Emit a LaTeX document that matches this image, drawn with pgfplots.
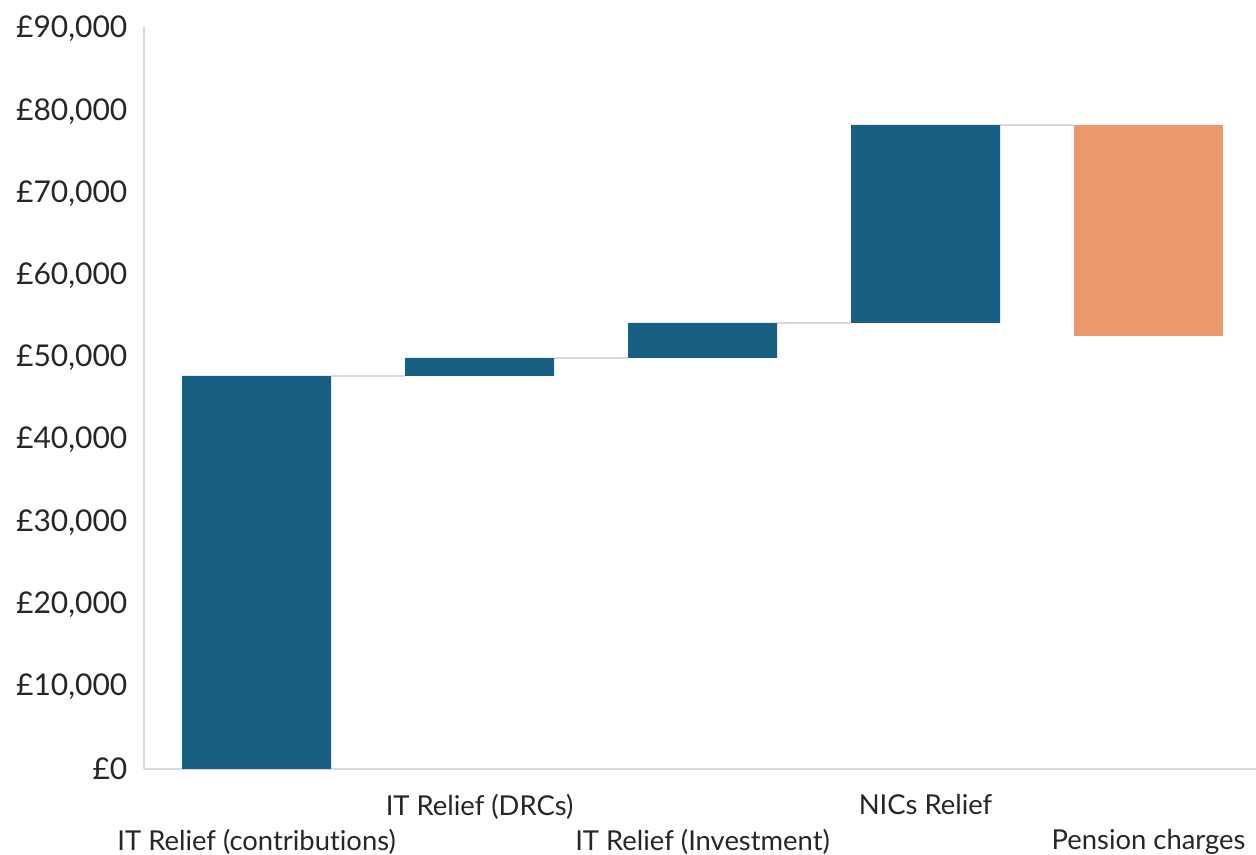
\documentclass[border=0pt]{standalone}
\usepackage{fontspec}
\setmainfont{Lato}[Ligatures={NoCommon}]
\usepackage{pgfplots}
\pgfplotsset{compat=1.18}
\definecolor{barblue}{HTML}{176082}
\definecolor{barorange}{HTML}{EB986B}
\definecolor{linegrey}{HTML}{D9D9D9}
\definecolor{txt}{HTML}{262626}
\begin{document}
\begin{tikzpicture}
\path[use as bounding box] (0,0) rectangle (628pt,427.5pt);
\begin{axis}[
  at={(72pt,43pt)}, anchor=south west,
  scale only axis, width=556pt, height=371pt,
  xmin=-0.505, xmax=4.482, ymin=0, ymax=90250,
  ybar stacked, bar width=0.668,
  axis lines*=left,
  axis line style={draw=linegrey, line width=1pt},
  major tick length=0pt,
  ytick={0,10000,...,90000},
  scaled y ticks=false,
  yticklabel={£\pgfmathprintnumber{\tick}},
  yticklabel style={/pgf/number format/fixed, /pgf/number format/1000 sep={,},
    /pgf/number format/assume math mode=true,
    font=\fontsize{15}{18}\selectfont, text=txt, xshift=-4.8pt},
  xtick={1,3},
  xticklabels={IT Relief (DRCs), NICs Relief},
  extra x ticks={0,2,4},
  extra x tick labels={IT Relief (contributions), IT Relief (Investment), Pension charges},
  extra x tick style={xticklabel style={yshift=-17.5pt}},
  xticklabel style={font=\fontsize{13.7}{16}\selectfont, text=txt, yshift=-9pt},
]
\addplot[draw=none, fill=none] coordinates {(0,0) (1,47800) (2,50000) (3,54250) (4,52660)};
\addplot[draw=none, fill=barblue] coordinates {(0,47800) (1,2200) (2,4250) (3,24080) (4,0)};
\addplot[draw=none, fill=barorange] coordinates {(0,0) (1,0) (2,0) (3,0) (4,25670)};
\addplot[stack plots=false, sharp plot, draw=linegrey, line width=1pt, mark=none] coordinates {(0.334,47800) (0.666,47800)};
\addplot[stack plots=false, sharp plot, draw=linegrey, line width=1pt, mark=none] coordinates {(1.334,50000) (1.666,50000)};
\addplot[stack plots=false, sharp plot, draw=linegrey, line width=1pt, mark=none] coordinates {(2.334,54250) (2.666,54250)};
\addplot[stack plots=false, sharp plot, draw=linegrey, line width=1pt, mark=none] coordinates {(3.334,78330) (3.666,78330)};
\end{axis}
\end{tikzpicture}
\end{document}
